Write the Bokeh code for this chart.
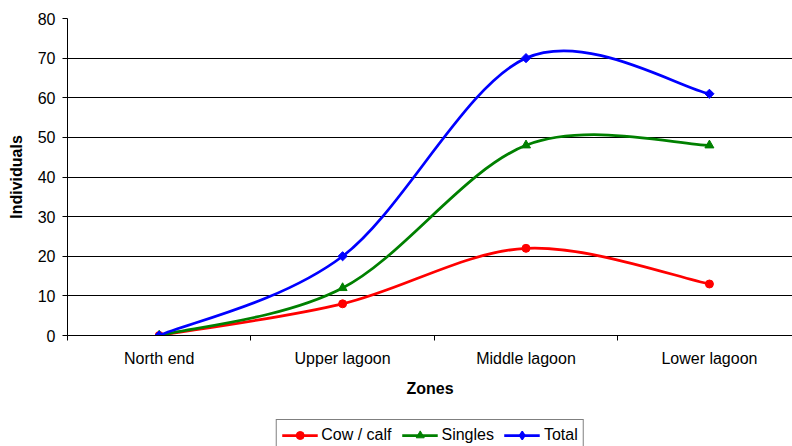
import numpy as np
from bokeh.plotting import figure
from bokeh.layouts import column
from bokeh.models import Range1d, FixedTicker, ColumnDataSource, Legend, LegendItem
from bokeh.embed import file_html
from bokeh.resources import INLINE

# Counts of individuals per zone
zones = ["North end", "Upper lagoon", "Middle lagoon", "Lower lagoon"]
cow_calf = [0, 8, 22, 13]
singles = [0, 12, 48, 48]
total = [0, 20, 70, 61]
y_ticks = [0, 10, 20, 30, 40, 50, 60, 70, 80]

FONT = "Liberation Sans"

x_pos = list(range(1, len(zones) + 1))
x_bounds = [x - 0.5 for x in x_pos] + [x_pos[-1] + 0.5]


def smooth_segments(xs, ys):
    """Cubic Bezier pieces passing through every point (smoothed line)."""
    n = len(xs)
    d = dict(x0=[], y0=[], x1=[], y1=[], cx0=[], cy0=[], cx1=[], cy1=[])
    for i in range(n - 1):
        a = max(i - 1, 0)
        b = min(i + 2, n - 1)
        d["x0"].append(xs[i])
        d["y0"].append(ys[i])
        d["x1"].append(xs[i + 1])
        d["y1"].append(ys[i + 1])
        d["cx0"].append(xs[i] + (xs[i + 1] - xs[a]) / 6)
        d["cy0"].append(ys[i] + (ys[i + 1] - ys[a]) / 6)
        d["cx1"].append(xs[i + 1] - (xs[b] - xs[i]) / 6)
        d["cy1"].append(ys[i + 1] - (ys[b] - ys[i]) / 6)
    return ColumnDataSource(d)


# ---- main chart -----------------------------------------------------------
p = figure(width=792, height=418, output_backend="svg", toolbar_location=None,
           x_range=Range1d(0.5, 0.5 + 3.953), y_range=Range1d(0, 80),
           min_border_left=67, min_border_right=0, min_border_top=18,
           min_border_bottom=83)
p.outline_line_color = None
p.background_fill_color = "white"
p.border_fill_color = "white"

# x axis: labels at category centres, ticks at category boundaries
p.xaxis.ticker = FixedTicker(ticks=x_pos, minor_ticks=x_bounds)
p.xaxis.major_label_overrides = {x: z for x, z in zip(x_pos, zones)}
p.xaxis.major_tick_line_color = None
p.xaxis.major_tick_out = 0
p.xaxis.major_tick_in = 0
p.xaxis.minor_tick_line_color = "black"
p.xaxis.minor_tick_out = 5
p.xaxis.minor_tick_in = 0
p.xaxis.major_label_standoff = 9
p.xaxis.axis_label = "Zones"
p.xaxis.axis_label_standoff = 10

# y axis
p.yaxis.ticker = FixedTicker(ticks=y_ticks)
p.yaxis.major_tick_out = 5
p.yaxis.major_tick_in = 0
p.yaxis.minor_tick_line_color = None
p.yaxis.major_label_standoff = 7
p.yaxis.axis_label = "Individuals"
p.yaxis.axis_label_standoff = 10

for ax in (p.xaxis, p.yaxis):
    ax.axis_line_color = "black"
    ax.major_label_text_font = FONT
    ax.major_label_text_font_size = "16px"
    ax.major_label_text_color = "black"
    ax.axis_label_text_font = FONT
    ax.axis_label_text_font_size = "16px"
    ax.axis_label_text_font_style = "bold"
    ax.axis_label_text_color = "black"

p.xgrid.visible = False
p.ygrid.ticker = FixedTicker(ticks=y_ticks)
p.ygrid.grid_line_color = "black"
p.ygrid.grid_line_width = 1

series = [
    ("Cow / calf", cow_calf, "#FF0000",
     dict(marker="circle", size=8), dict(marker="circle")),
    ("Singles", singles, "#008000",
     dict(marker="triangle", size=9), dict(marker="triangle")),
    ("Total", total, "#0000FF",
     dict(marker="square", size=6.5, angle=np.pi / 4), dict(marker="diamond", line_width=1.5)),
]

for label, ys, color, mk, _ in series:
    src = smooth_segments(x_pos, ys)
    p.bezier(x0="x0", y0="y0", x1="x1", y1="y1", cx0="cx0", cy0="cy0",
             cx1="cx1", cy1="cy1", source=src, line_color=color, line_width=2.75)
    p.scatter(x=x_pos, y=ys, fill_color=color, line_color=color, **mk)

# ---- legend strip under the chart -------------------------------------------
# The strip's y range sits below zero, so the key series stay out of view and
# only their legend swatches are drawn.
lg = figure(width=792, height=28, output_backend="svg", toolbar_location=None,
            x_axis_type=None, y_axis_type=None, min_border=0,
            x_range=Range1d(0.5, 0.5 + 3.953), y_range=Range1d(-100, -90))
lg.outline_line_color = None
lg.grid.visible = False
lg.background_fill_color = "white"
lg.border_fill_color = "white"

items = []
for label, ys, color, _, key_mk in series:
    key_line = lg.line(x=x_pos, y=ys, line_color=color, line_width=2.75)
    key_mark = lg.scatter(x=x_pos, y=ys, fill_color=color, line_color=color,
                          **key_mk)
    items.append(LegendItem(label=label, renderers=[key_line, key_mark]))

legend = Legend(items=items, location="top_center", orientation="horizontal",
                glyph_width=36, glyph_height=20, label_standoff=4, spacing=10,
                padding=5, margin=1, border_line_color="black",
                border_line_width=1, background_fill_color="white",
                background_fill_alpha=1, label_text_font=FONT,
                label_text_font_size="16px", label_text_color="black")
lg.add_layout(legend)

open("out.html", "w").write(file_html(column(p, lg, spacing=0), INLINE))
